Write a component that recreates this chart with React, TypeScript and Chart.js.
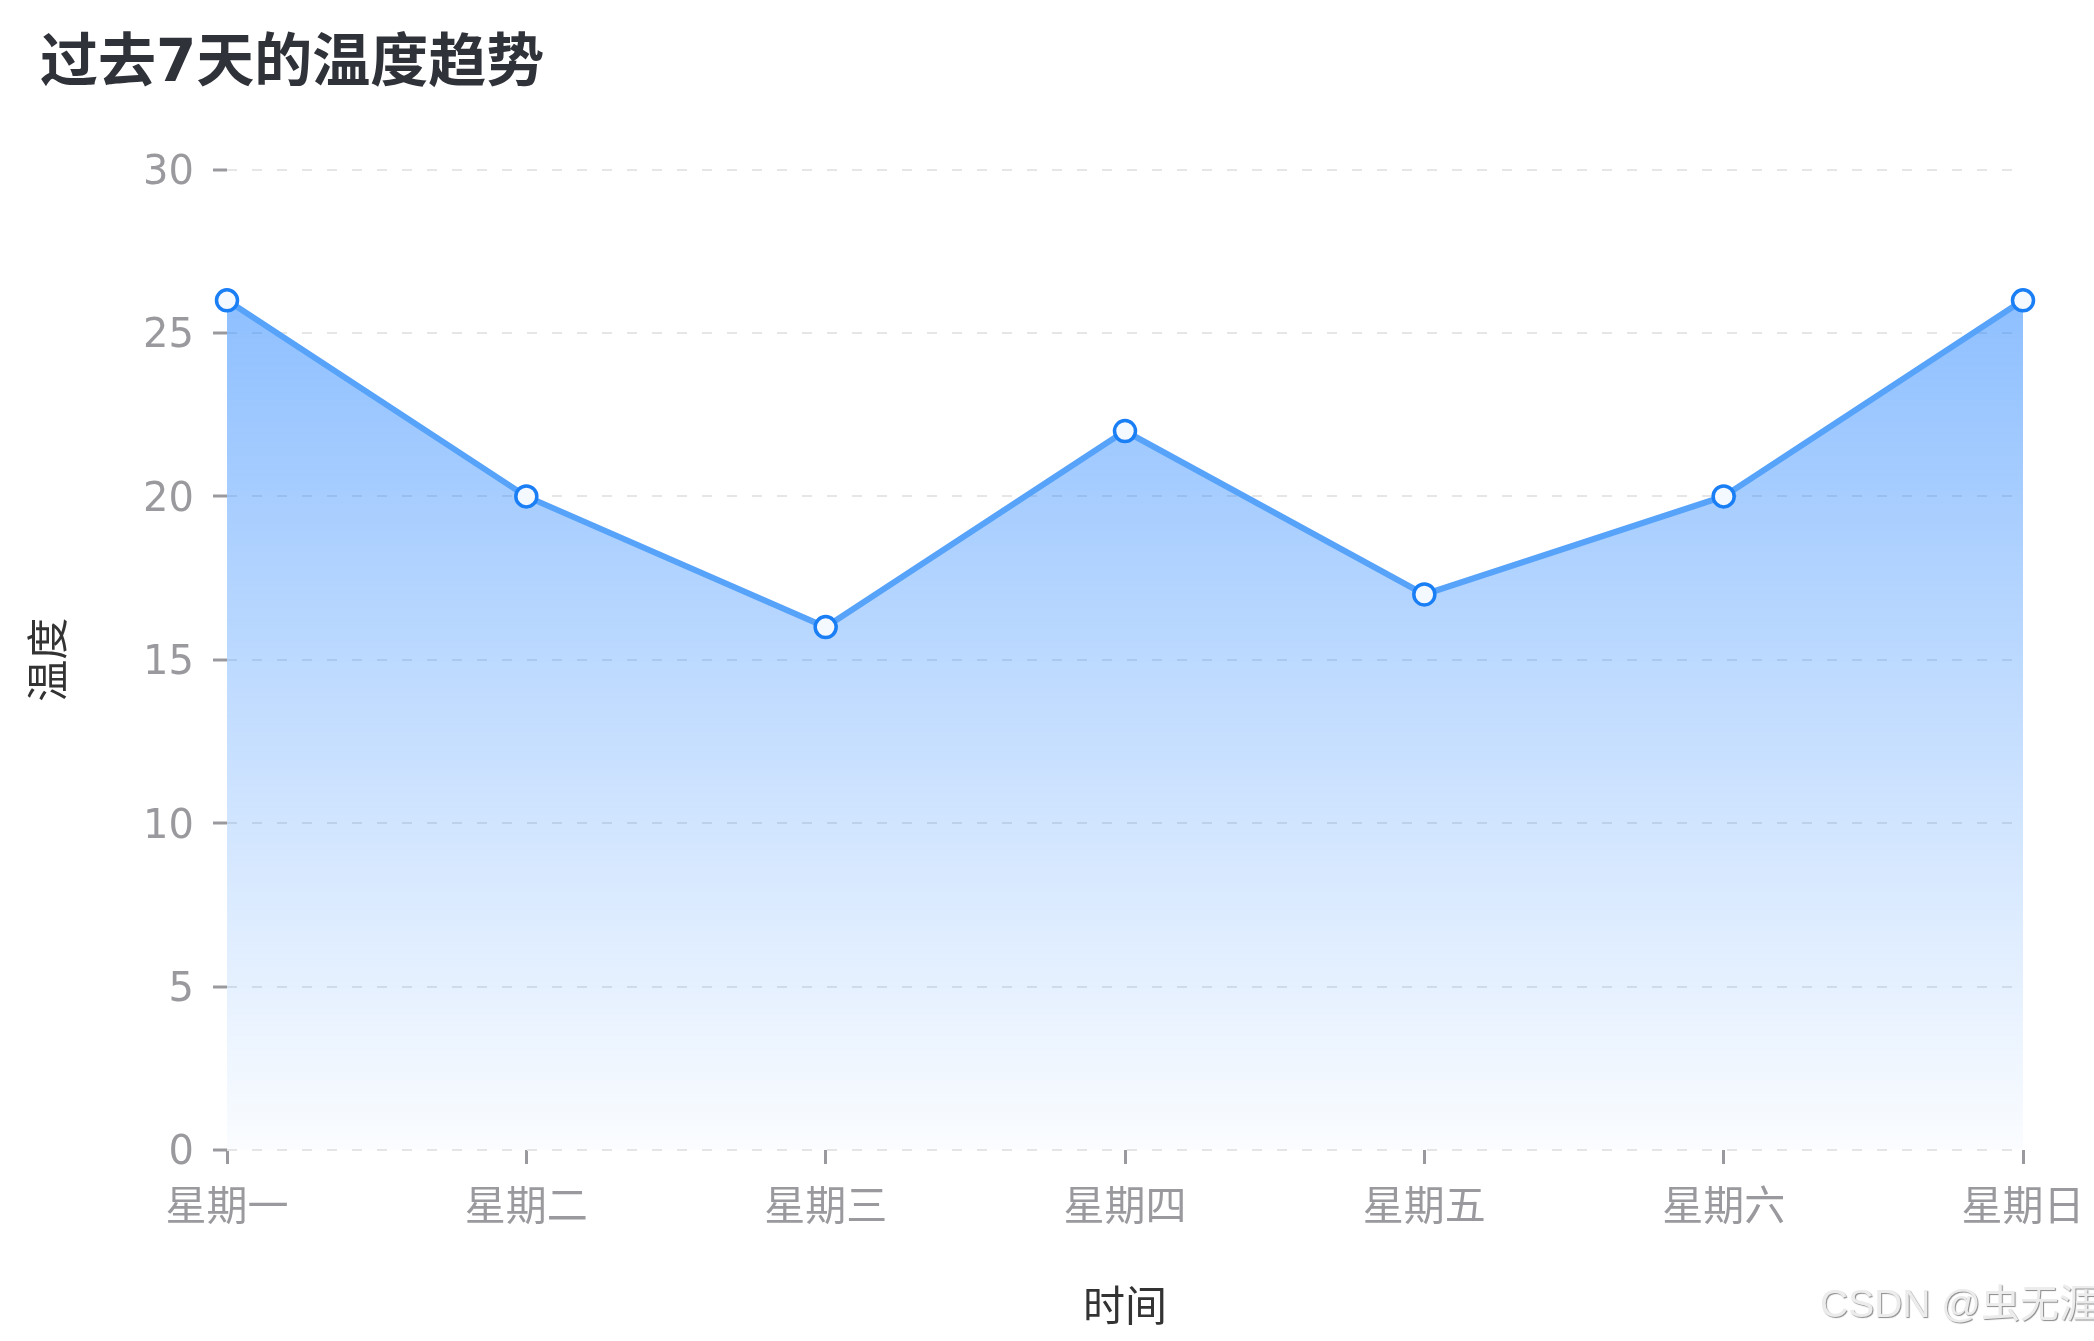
import { useEffect, useRef } from "react";
import { Chart, registerables, type ChartConfiguration } from "chart.js";

Chart.register(...registerables);

const days = ["星期一", "星期二", "星期三", "星期四", "星期五", "星期六", "星期日"];
const temps = [26, 20, 16, 22, 17, 20, 26];
const yTicks = [0, 5, 10, 15, 20, 25, 30];

const FONT = "'DejaVu Sans', 'Noto Sans CJK SC', sans-serif";
const TICK_GRAY = "#9a9a9e";

function TempChart() {
  const canvasRef = useRef<HTMLCanvasElement>(null);
  const chartRef = useRef<Chart | null>(null);

  useEffect(() => {
    if (!canvasRef.current) return;
    const cfg: ChartConfiguration<"line", number[], string> = {
      type: "line",
      data: {
        labels: days,
        datasets: [
          {
            data: temps,
            borderColor: "#58a3fa",
            borderWidth: 6,
            tension: 0,
            fill: "origin",
            backgroundColor: (ctx) => {
              const { chart } = ctx;
              const area = chart.chartArea;
              if (!area) return "rgba(30,128,255,0.3)";
              const top = chart.scales.y.getPixelForValue(Math.max(...temps));
              const g = chart.ctx.createLinearGradient(0, top, 0, area.bottom);
              g.addColorStop(0, "rgba(30,128,255,0.5)");
              g.addColorStop(1, "rgba(30,128,255,0.02)");
              return g;
            },
            pointRadius: 10.5,
            pointBorderWidth: 3.5,
            pointBorderColor: "#1a7ef5",
            pointBackgroundColor: "#f4f8ff",
          },
        ],
      },
      options: {
        responsive: false,
        animation: false,
        devicePixelRatio: 1,
        layout: { padding: { left: 40, right: 71, top: 0, bottom: 0 } },
        scales: {
          x: {
            afterFit: (s) => {
              s.height = 191;
              // let the layout padding alone decide the right edge
              s.paddingLeft = 0;
              s.paddingRight = 0;
            },
            grid: {
              drawOnChartArea: false,
              drawTicks: true,
              tickLength: 14,
              tickColor: TICK_GRAY,
              tickWidth: 3,
            },
            border: { display: false },
            ticks: {
              color: "#9a9a9e",
              padding: 21,
              font: { family: FONT, size: 41 },
              maxRotation: 0,
            },
            title: {
              display: true,
              text: "时间",
              color: "#333333",
              font: { family: FONT, size: 42 },
              padding: { top: 0, bottom: 6 },
            },
          },
          y: {
            min: yTicks[0],
            max: yTicks[yTicks.length - 1],
            afterFit: (s) => {
              s.width = 187;
            },
            grid: {
              color: "#e6e6e6",
              lineWidth: 2,
              tickLength: 14,
              tickColor: TICK_GRAY,
              tickWidth: 3,
            },
            border: { display: false, dash: [10, 15] },
            ticks: {
              stepSize: yTicks[1] - yTicks[0],
              color: "#9a9a9e",
              padding: 19,
              labelOffset: 4,
              font: { family: FONT, size: 40 },
            },
            title: {
              display: true,
              text: "温度",
              color: "#333333",
              font: { family: FONT, size: 42 },
              padding: { top: -13, bottom: 0 },
            },
          },
        },
        plugins: {
          legend: { display: false },
          tooltip: { enabled: false },
          title: {
            display: true,
            text: "过去7天的温度趋势",
            align: "start",
            color: "#303239",
            font: { family: FONT, size: 58, weight: "bold" },
            padding: { top: 31, bottom: 69 },
          },
        },
      },
    };
    chartRef.current = new Chart(canvasRef.current, cfg);
    return () => {
      chartRef.current?.destroy();
      chartRef.current = null;
    };
  }, []);

  return <canvas ref={canvasRef} width={2094} height={1341} />;
}

export default function App() {
  return (
    <div
      style={{
        position: "absolute",
        left: 0,
        top: 0,
        width: 2094,
        height: 1341,
        background: "#ffffff",
        overflow: "hidden",
      }}
    >
      <TempChart />
      <div
        style={{
          position: "absolute",
          left: 1820,
          top: 1281,
          fontFamily: "'Liberation Sans', 'Noto Sans CJK SC', sans-serif",
          fontSize: 39,
          lineHeight: "46px",
          color: "#ececec",
          textShadow: "1px 1px 1px #8a8a8a",
          whiteSpace: "nowrap",
        }}
      >
        CSDN @虫无涯
      </div>
    </div>
  );
}
